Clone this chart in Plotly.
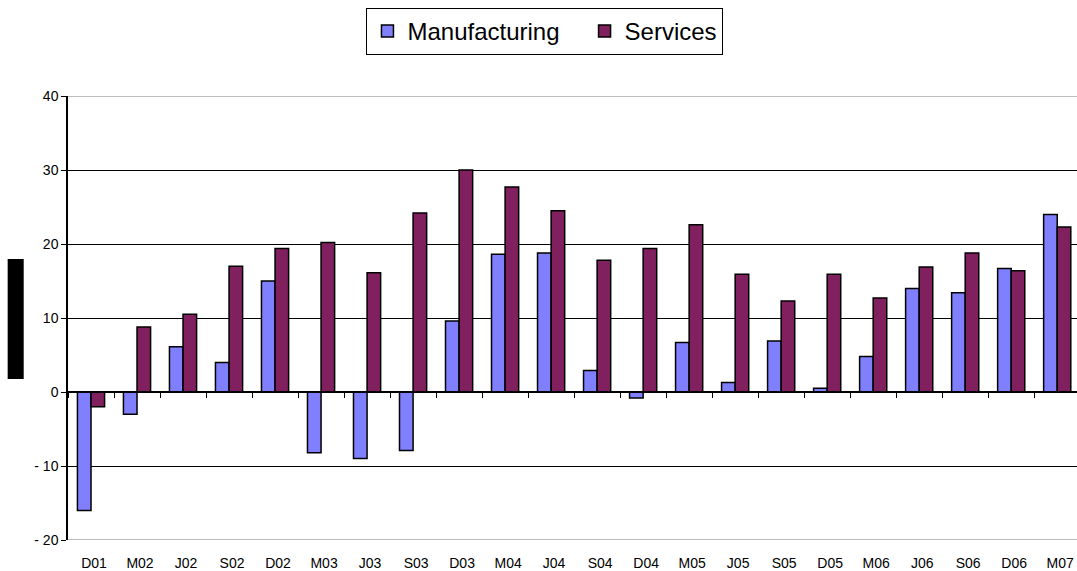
import plotly.graph_objects as go

# Survey balances by quarter
periods = ["D01", "M02", "J02", "S02", "D02", "M03", "J03", "S03", "D03", "M04", "J04",
           "S04", "D04", "M05", "J05", "S05", "D05", "M06", "J06", "S06", "D06", "M07"]
manufacturing = [-16.0, -3.0, 6.1, 4.0, 15.0, -8.2, -9.0, -7.9, 9.6, 18.6, 18.8,
                 2.9, -0.8, 6.7, 1.3, 6.9, 0.5, 4.8, 14.0, 13.4, 16.7, 24.0]
services = [-2.0, 8.8, 10.5, 17.0, 19.4, 20.2, 16.1, 24.2, 30.0, 27.7, 24.5,
            17.8, 19.4, 22.6, 15.9, 12.3, 15.9, 12.7, 16.9, 18.8, 16.4, 22.3]
y_ticks = [-20, -10, 0, 10, 20, 30, 40]
y_ticktext = ["- 20", "- 10", "0", "10", "20", "30", "40"]

FONT = "Liberation Sans, Arial, sans-serif"
PAD = "\u00a0" * 3  # extra room between legend entries

fig = go.Figure()
fig.add_trace(go.Bar(
    x=periods, y=manufacturing, name="Manufacturing" + PAD,
    marker=dict(color="#8080FF", line=dict(color="black", width=1.5)),
))
fig.add_trace(go.Bar(
    x=periods, y=services, name="Services",
    marker=dict(color="#80205F", line=dict(color="black", width=1.5)),
))
# carrier trace for the bottom label axis
fig.add_trace(go.Scatter(
    x=periods, y=[None] * len(periods), xaxis="x2", showlegend=False,
    hoverinfo="skip", mode="markers",
))

x_range = [-0.5, 21.43]

fig.update_layout(
    width=1077, height=571,
    margin=dict(l=68, r=0, t=96, b=31),
    paper_bgcolor="white", plot_bgcolor="white",
    font=dict(family=FONT, color="black", size=13),
    barmode="group", bargap=0.41, bargroupgap=0,
    showlegend=True,
    legend=dict(
        orientation="h", xref="container", yref="container",
        x=0.506, xanchor="center", y=0.986, yanchor="top",
        font=dict(size=24, family=FONT, color="black"),
        bordercolor="black", borderwidth=1, bgcolor="white",
        traceorder="normal",
    ),
    xaxis=dict(
        type="category", range=x_range,
        anchor="free", position=1 / 3,
        showline=True, linecolor="black", linewidth=1.5,
        ticks="outside", ticklen=5, tickcolor="black", tickwidth=1,
        tickson="boundaries", showticklabels=False, showgrid=False,
        zeroline=False,
    ),
    xaxis2=dict(
        type="category", range=x_range, overlaying="x",
        anchor="y", side="bottom",
        showline=False, ticks="", showgrid=False, zeroline=False,
        tickfont=dict(size=14, family=FONT, color="black"),
        ticklabelstandoff=13, ticklabelshift=3,
    ),
    yaxis=dict(
        range=[-20, 40], tickvals=y_ticks, ticktext=y_ticktext,
        showgrid=True, gridcolor="black", gridwidth=1,
        zeroline=False,
        showline=True, linecolor="black", linewidth=1.5,
        ticks="outside", ticklen=5, tickcolor="black",
        tickfont=dict(size=14, family=FONT, color="black"),
    ),
    shapes=[
        # grey plot-area border at top and bottom
        dict(type="line", xref="paper", yref="y", x0=0, x1=1, y0=40, y1=40,
             line=dict(color="#BDBDBD", width=2), layer="above"),
        dict(type="line", xref="paper", yref="y", x0=0, x1=1, y0=-20, y1=-20,
             line=dict(color="#BDBDBD", width=2), layer="above"),
        # blacked-out axis caption
        dict(type="rect", xref="paper", yref="paper",
             x0=-0.0598, x1=-0.0439, y0=0.3626, y1=0.633,
             fillcolor="black", line=dict(width=0)),
    ],
)

fig.write_html("out.html")
